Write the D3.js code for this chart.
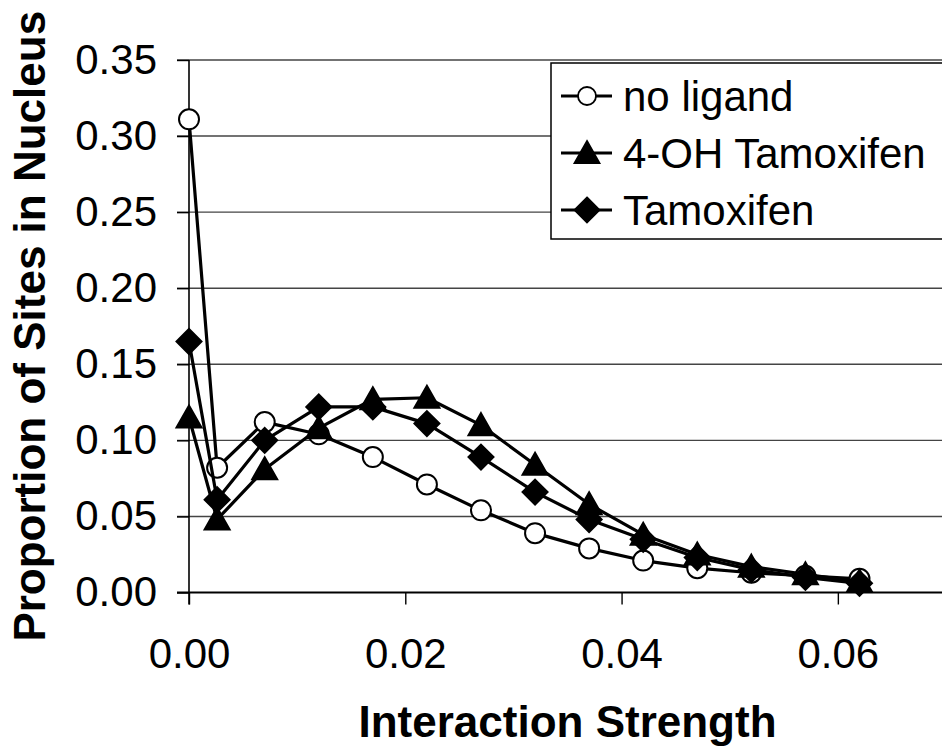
<!DOCTYPE html>
<html>
<head>
<meta charset="utf-8">
<script src="https://cdn.jsdelivr.net/npm/d3@7"></script>
<style>
  body { margin: 0; background: #fff; }
  svg { display: block; font-family: "Liberation Sans", Arial, sans-serif; }
</style>
</head>
<body>
<svg id="chart" width="942" height="746"></svg>
<script>
// interaction strength (x) for each bin
const strength = [0, 0.0026, 0.007, 0.012, 0.017, 0.022, 0.027, 0.032, 0.037, 0.042, 0.047, 0.052, 0.057, 0.062]

// proportion of sites in nucleus per series
const noLigand   = [0.311, 0.082, 0.112, 0.104, 0.089, 0.071, 0.054, 0.039, 0.029, 0.021, 0.016, 0.013, 0.011, 0.009]
const ohTamox    = [0.115, 0.048, 0.081, 0.108, 0.127, 0.128, 0.110, 0.084, 0.058, 0.038, 0.025, 0.017, 0.012, 0.007]
const tamoxifen  = [0.165, 0.061, 0.100, 0.122, 0.122, 0.111, 0.089, 0.066, 0.048, 0.035, 0.023, 0.015, 0.010, 0.006]

const seriesNames = ['no ligand', '4-OH Tamoxifen', 'Tamoxifen']
const xTicks = [0, 0.02, 0.04, 0.06]
const yTicks = [0, 0.05, 0.10, 0.15, 0.20, 0.25, 0.30, 0.35]

const series = [
    { name: seriesNames[0], values: noLigand, marker: 'circle' },
    { name: seriesNames[1], values: ohTamox, marker: 'triangle' },
    { name: seriesNames[2], values: tamoxifen, marker: 'diamond' }
]

const svg = d3.select('#chart')
const plot = { left: 189, right: 946, top: 60, bottom: 592.5 }

const x = d3.scaleLinear().domain([0, 0.07]).range([plot.left, plot.right])
const y = d3.scaleLinear().domain([0, 0.35]).range([plot.bottom, plot.top])
const fmt = d3.format('.2f')

// horizontal gridlines
svg.append('g')
    .selectAll('line')
    .data(yTicks.filter(d => d > 0))
    .join('line')
    .attr('x1', plot.left - 12)
    .attr('x2', 942)
    .attr('y1', d => y(d))
    .attr('y2', d => y(d))
    .attr('stroke', '#444')
    .attr('stroke-width', 1.4)

// y axis
const yAxis = svg.append('g')
    .attr('transform', `translate(${plot.left},0)`)
    .call(d3.axisLeft(y).tickValues(yTicks).tickFormat(fmt).tickSize(12).tickPadding(20))
yAxis.select('.domain').attr('stroke', '#000').attr('stroke-width', 1.6)
    .attr('d', `M0,${plot.top}V${plot.bottom + 12}`)
yAxis.selectAll('.tick line').attr('stroke', '#000').attr('stroke-width', 1.4)
yAxis.selectAll('.tick text')
    .attr('font-size', 42)
    .attr('fill', '#000')
    .attr('font-family', '"Liberation Sans", Arial, sans-serif')

// x axis
const xAxis = svg.append('g')
    .attr('transform', `translate(0,${plot.bottom})`)
    .call(d3.axisBottom(x).tickValues(xTicks).tickFormat(fmt).tickSize(12).tickPadding(34))
xAxis.select('.domain').attr('stroke', '#000').attr('stroke-width', 2)
    .attr('d', `M${plot.left - 12},0H942`)
xAxis.selectAll('.tick line').attr('stroke', '#000').attr('stroke-width', 1.4)
xAxis.selectAll('.tick text')
    .attr('font-size', 42)
    .attr('fill', '#000')
    .attr('font-family', '"Liberation Sans", Arial, sans-serif')

// marker shapes, Excel-like
function markerPath(kind) {
    if (kind === 'triangle') return 'M0,-12L12.5,10L-12.5,10Z'
    if (kind === 'diamond') return 'M0,-12.5L12.5,0L0,12.5L-12.5,0Z'
    return d3.symbol(d3.symbolCircle, Math.PI * 10 * 10)()
}

const line = d3.line()
    .x((d, i) => x(strength[i]))
    .y(d => y(d))

series.forEach(s => {
    const g = svg.append('g')
    g.append('path')
        .attr('d', line(s.values))
        .attr('fill', 'none')
        .attr('stroke', '#000')
        .attr('stroke-width', 3.2)
        .attr('stroke-linejoin', 'round')

    g.selectAll('path.marker')
        .data(s.values)
        .join('path')
        .attr('class', 'marker')
        .attr('d', markerPath(s.marker))
        .attr('transform', (d, i) => `translate(${x(strength[i])},${y(d)})`)
        .attr('fill', s.marker === 'circle' ? '#fff' : '#000')
        .attr('stroke', '#000')
        .attr('stroke-width', 2)
})

// legend
const legend = svg.append('g')
legend.append('rect')
    .attr('x', 551)
    .attr('y', 63)
    .attr('width', 400)
    .attr('height', 176)
    .attr('fill', '#fff')
    .attr('stroke', '#000')
    .attr('stroke-width', 1.5)

const rows = legend.selectAll('g.row')
    .data(series)
    .join('g')
    .attr('class', 'row')
    .attr('transform', (d, i) => `translate(0,${96 + i * 57})`)

rows.append('line')
    .attr('x1', 561).attr('x2', 612)
    .attr('stroke', '#000').attr('stroke-width', 3)
rows.append('path')
    .attr('d', d => {
        // slightly smaller markers in the legend
        if (d.marker === 'circle') return d3.symbol(d3.symbolCircle, Math.PI * 9 * 9)()
        return markerPath(d.marker)
    })
    .attr('transform', 'translate(587,0)')
    .attr('fill', d => d.marker === 'circle' ? '#fff' : '#000')
    .attr('stroke', '#000')
    .attr('stroke-width', 1.8)
rows.append('text')
    .attr('x', 623)
    .attr('y', 15)
    .attr('font-size', 42)
    .text(d => d.name)

// axis titles
svg.append('text')
    .attr('transform', `translate(45,${(plot.top + plot.bottom) / 2}) rotate(-90)`)
    .attr('text-anchor', 'middle')
    .attr('font-size', 44)
    .attr('font-weight', 'bold')
    .text('Proportion of Sites in Nucleus')

svg.append('text')
    .attr('x', (plot.left + plot.right) / 2)
    .attr('y', 737)
    .attr('text-anchor', 'middle')
    .attr('font-size', 44)
    .attr('font-weight', 'bold')
    .text('Interaction Strength')
</script>
</body>
</html>
